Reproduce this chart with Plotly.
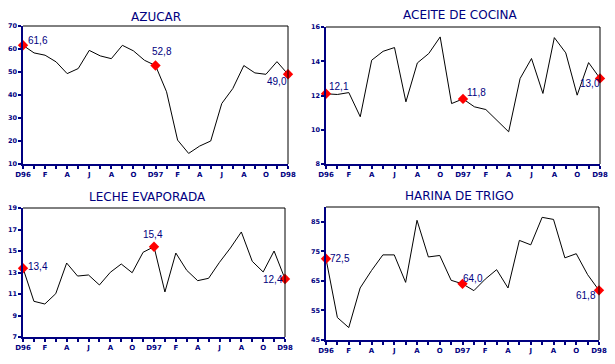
import plotly.graph_objects as go

months = list(range(25))
tick_text = ["D96", "", "F", "", "A", "", "J", "", "A", "", "O", "", "D97",
             "", "F", "", "A", "", "J", "", "A", "", "O", "", "D98"]

azucar = [61.6, 58.3, 57.3, 54.4, 49.3, 51.5, 59.4, 57.0, 55.8, 61.6, 59.2, 55.1, 52.8,
          41.4, 20.4, 14.6, 17.8, 20.0, 36.3, 42.8, 52.8, 49.6, 49.0, 54.5, 49.0]
aceite = [12.1, 12.06, 12.17, 10.76, 14.06, 14.58, 14.8, 11.63, 13.9, 14.45, 15.42, 11.53, 11.8,
          11.34, 11.18, 10.52, 9.88, 12.99, 14.16, 12.12, 15.38, 14.49, 12.02, 13.92, 13.0]
leche = [13.4, 10.32, 10.07, 11.03, 13.88, 12.67, 12.77, 11.84, 13.02, 13.79, 12.98, 14.88, 15.4,
         11.19, 14.81, 13.2, 12.24, 12.46, 13.95, 15.28, 16.77, 14.04, 13.05, 15.0, 12.4]
harina = [72.5, 52.6, 49.2, 62.6, 68.5, 73.8, 73.8, 64.5, 85.5, 73.1, 73.6, 65.2, 64.0,
          61.7, 65.6, 68.8, 62.6, 78.7, 77.2, 86.5, 85.8, 72.8, 74.2, 67.1, 61.8]

titles = ["AZUCAR", "ACEITE DE COCINA", "LECHE EVAPORADA", "HARINA DE TRIGO"]
series = [azucar, aceite, leche, harina]
y_ranges = [(10, 70), (8, 16), (7, 19), (45, 90)]
y_ticks = [[10, 20, 30, 40, 50, 60, 70], [8, 10, 12, 14, 16], [7, 9, 11, 13, 15, 17, 19], [45, 55, 65, 75, 85]]
highlight = [0, 12, 24]
label_text = [["61,6", "52,8", "49,0"], ["12,1", "11,8", "13,0"],
              ["13,4", "15,4", "12,4"], ["72,5", "64,0", "61,8"]]
# label offsets (pixels) relative to points
label_shift = [[(15, 5), (6, 14), (-11, -7)],
               [(13, 7), (14, 6), (-10, -5)],
               [(15, 2), (-1, 12), (-12, -1)],
               [(14, 0), (11, 5), (-13, -5)]]

W, H = 615, 364
boxes = [  # (left, right, top, bottom) pixels
    (23, 288, 26, 164),
    (326, 600, 27, 164),
    (23, 285, 208, 337),
    (326, 599, 207, 340),
]
title_pos = [(156, 17), (460, 15), (147, 197), (459, 196)]

NAVY = "#000080"
fig = go.Figure()
for k in range(4):
    xa = "x" if k == 0 else f"x{k+1}"
    ya = "y" if k == 0 else f"y{k+1}"
    fig.add_trace(go.Scatter(x=months, y=series[k], mode="lines",
                             line=dict(color="black", width=1), xaxis=xa, yaxis=ya,
                             showlegend=False, hoverinfo="skip"))
    fig.add_trace(go.Scatter(x=highlight, y=[series[k][i] for i in highlight], mode="markers",
                             marker=dict(symbol="diamond", size=8, color="red",
                                         line=dict(width=0)),
                             xaxis=xa, yaxis=ya, showlegend=False, hoverinfo="skip",
                             cliponaxis=False))
    l, r, t, b = boxes[k]
    xkey = "xaxis" if k == 0 else f"xaxis{k+1}"
    ykey = "yaxis" if k == 0 else f"yaxis{k+1}"
    fig.update_layout(**{
        xkey: dict(domain=[l / W, r / W], range=[0, 24], anchor=ya, automargin=False,
                   tickvals=months, ticktext=tick_text, ticks="outside", ticklen=3,
                   tickcolor=NAVY, tickwidth=1.5, showline=True, linecolor=NAVY, linewidth=1.5,
                   showgrid=False, zeroline=False,
                   tickfont=dict(family="DejaVu Sans", size=7, color=NAVY, weight="bold")),
        ykey: dict(domain=[1 - b / H, 1 - t / H], range=list(y_ranges[k]), anchor=xa,
                   automargin=False,
                   tickvals=y_ticks[k], ticks="outside", ticklen=3, tickcolor=NAVY, tickwidth=1.5,
                   showline=True, linecolor=NAVY, linewidth=1.5, showgrid=False, zeroline=False,
                   tickfont=dict(family="DejaVu Sans", size=6.5, color=NAVY, weight="bold")),
    })
    # top and right border in black
    fig.add_shape(type="line", xref=f"{xa} domain", yref=f"{ya} domain",
                  x0=0, x1=1, y0=1, y1=1, line=dict(color="black", width=1))
    fig.add_shape(type="line", xref=f"{xa} domain", yref=f"{ya} domain",
                  x0=1, x1=1, y0=0, y1=1, line=dict(color="black", width=1))
    # title
    tx, ty = title_pos[k]
    fig.add_annotation(text=titles[k], x=tx / W, y=1 - ty / H, xref="paper", yref="paper",
                       showarrow=False, xanchor="center", yanchor="middle",
                       font=dict(family="DejaVu Sans", size=12, color=NAVY))
    for j, i in enumerate(highlight):
        dx, dy = label_shift[k][j]
        fig.add_annotation(text=label_text[k][j], x=i, y=series[k][i], xref=xa, yref=ya,
                           showarrow=False, xshift=dx, yshift=dy,
                           font=dict(family="Liberation Sans", size=10, color=NAVY))

fig.update_layout(width=W, height=H, margin=dict(l=0, r=0, t=0, b=0),
                  paper_bgcolor="white", plot_bgcolor="white")
fig.write_html("out.html", config={"displayModeBar": False},
               post_script="document.body.style.margin='0';document.body.style.overflow='hidden';")
